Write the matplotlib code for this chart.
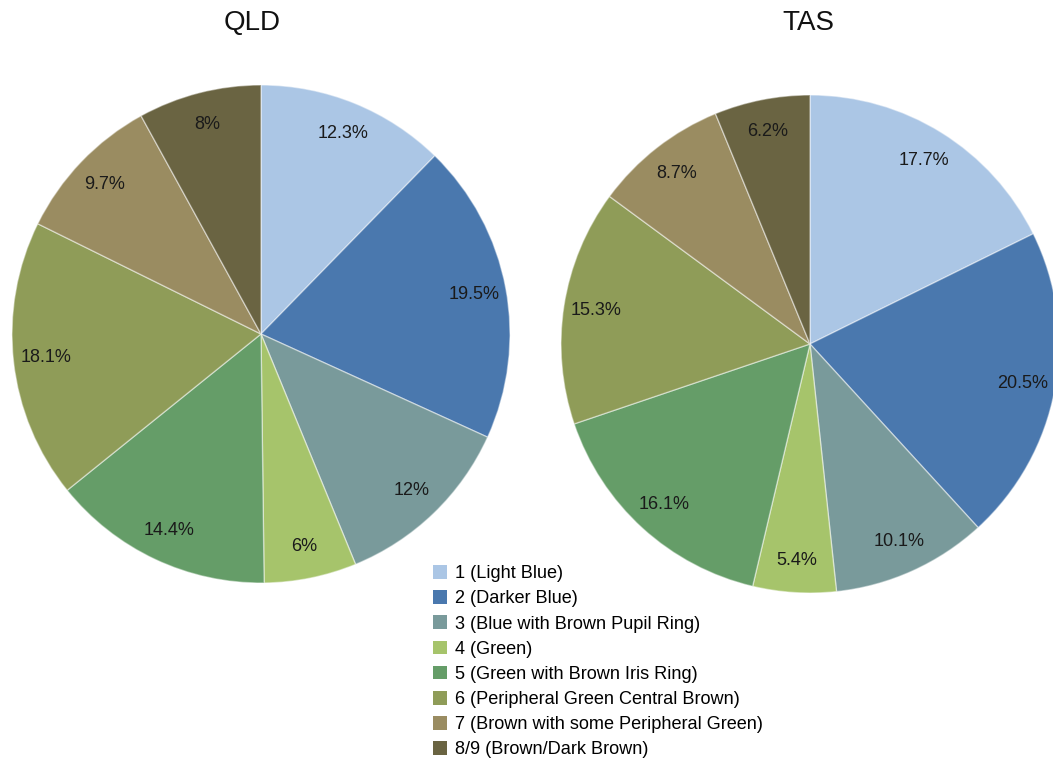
import matplotlib
matplotlib.use("Agg")
import matplotlib.pyplot as plt
from matplotlib.patches import Patch

plt.rcParams['font.family'] = ['Liberation Sans', 'DejaVu Sans']

categories = ['1 (Light Blue)', '2 (Darker Blue)', '3 (Blue with Brown Pupil Ring)',
              '4 (Green)', '5 (Green with Brown Iris Ring)',
              '6 (Peripheral Green Central Brown)', '7 (Brown with some Peripheral Green)',
              '8/9 (Brown/Dark Brown)']
qld = [12.3, 19.5, 12, 6, 14.4, 18.1, 9.7, 8]
tas = [17.7, 20.5, 10.1, 5.4, 16.1, 15.3, 8.7, 6.2]
colors = ['#abc6e5', '#4a78ae', '#799a9b', '#a6c46b', '#659d68',
          '#8f9c58', '#9a8c61', '#6a6442']

W, H = 1053, 764
fig = plt.figure(figsize=(W / 100, H / 100), dpi=100)
fig.patch.set_facecolor('white')


def draw_pie(vals, cx, cy, r, title, tx):
    # axes box in pixels -> figure fraction
    ax = fig.add_axes([(cx - r) / W, (H - cy - r) / H, 2 * r / W, 2 * r / H])
    wedges, _, autotexts = ax.pie(
        vals, colors=colors, startangle=90, counterclock=False,
        autopct=lambda p: f"{p:g}%", pctdistance=0.87, radius=1,
        wedgeprops=dict(edgecolor=(1, 1, 1, 0.45), linewidth=1.0),
        textprops=dict(fontsize=13, color='#1a1a1a'))
    ax.set_xlim(-1, 1)
    ax.set_ylim(-1, 1)
    ax.set_aspect('equal')
    ax.axis('off')
    fig.text(tx / W, 1 - 23 / H, title, ha='center', va='center',
             fontsize=20, color='#111111')
    return wedges


draw_pie(qld, 261, 334, 249, 'QLD', 252)
draw_pie(tas, 810, 344, 249, 'TAS', 808)

handles = [Patch(facecolor=c, edgecolor='none') for c in colors]
fig.legend(handles, categories, loc='upper left',
           bbox_to_anchor=(433 / W, 1 - 565 / H), frameon=False,
           borderpad=0, borderaxespad=0, fontsize=13.1,
           handlelength=0.78, handleheight=0.78, handletextpad=0.45,
           labelspacing=0.44)

fig.savefig('out.png', dpi=100, facecolor='white')
